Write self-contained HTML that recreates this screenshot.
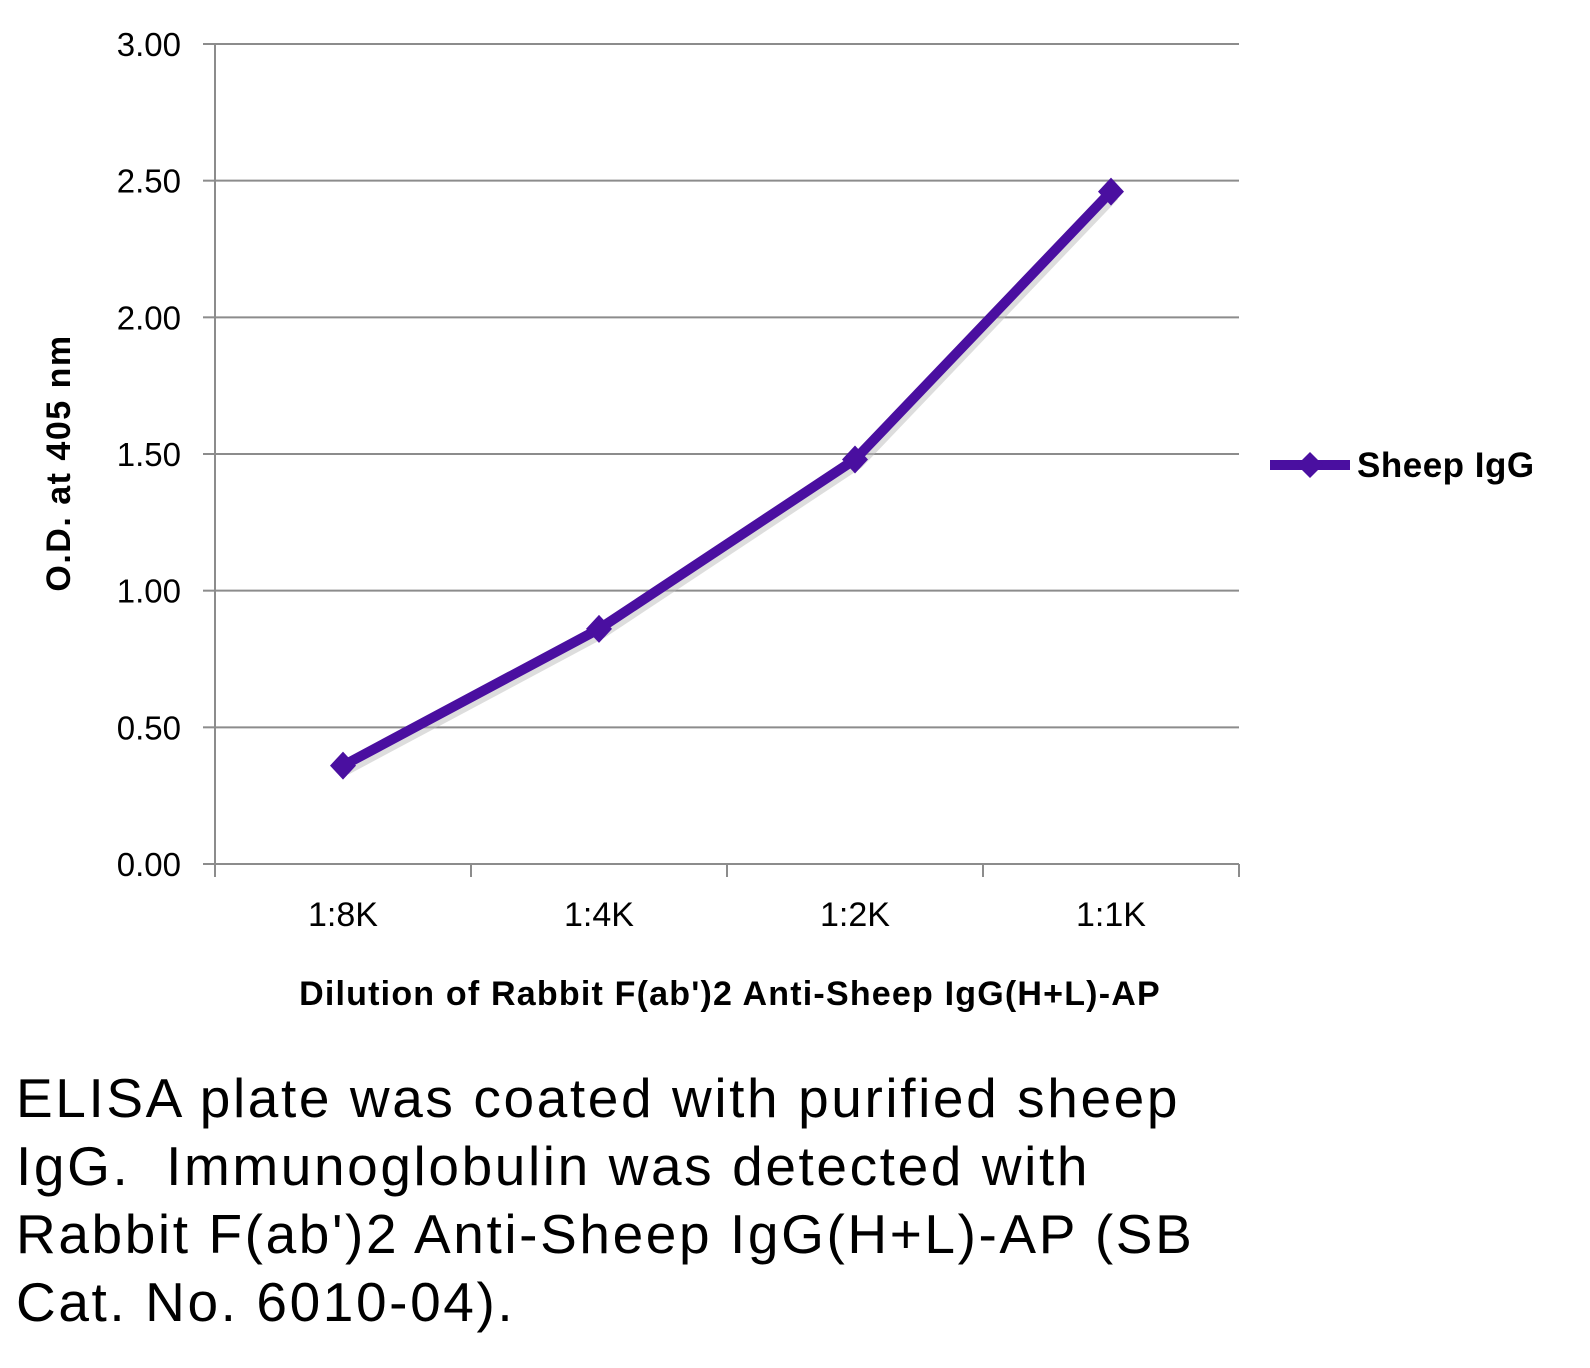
<!DOCTYPE html>
<html><head><meta charset="utf-8"><style>
body{margin:0;background:#fff;width:1590px;height:1368px;overflow:hidden;font-family:"Liberation Sans",sans-serif}
svg{position:absolute;left:0;top:0}
.cap{position:absolute;left:16px;top:1064px;font-size:55px;letter-spacing:2.6px;line-height:68px;color:#000;width:1500px;white-space:nowrap}
</style></head><body>
<svg id="chart" width="1590" height="1050"></svg>
<div class="cap">ELISA plate was coated with purified sheep<br>IgG.&nbsp; Immunoglobulin was detected with<br>Rabbit F(ab')2 Anti-Sheep IgG(H+L)-AP (SB<br>Cat. No. 6010-04).</div>
<script>
const categories=["1:8K","1:4K","1:2K","1:1K"];
const sheepIgG=[0.36,0.86,1.48,2.46];
const yTicks=["0.00","0.50","1.00","1.50","2.00","2.50","3.00"];
const NS="http://www.w3.org/2000/svg";
const svg=document.getElementById('chart');
const X0=215,X1=1239,Y0=864,Y1=44,YMAX=3;
const bw=(X1-X0)/categories.length;
const xs=i=>X0+bw*(i+0.5);
const ys=v=>Y0-(v/YMAX)*(Y0-Y1);
function mk(t,a,p){const e=document.createElementNS(NS,t);for(const k in a)e.setAttribute(k,a[k]);(p||svg).appendChild(e);return e;}
yTicks.forEach((t,i)=>{const v=parseFloat(t);const y=ys(v);
 const g=mk('line',{x1:X0,x2:X1,y1:y,y2:y,stroke:'#8c8c8c','stroke-width':2});
 
 
 mk('line',{x1:203,x2:X0,y1:y,y2:y,stroke:'#8c8c8c','stroke-width':2});
 const tx=mk('text',{x:181,y:y+12,'text-anchor':'end','font-size':33,fill:'#000'});tx.textContent=t;
 
 
});
mk('line',{x1:X0,x2:X0,y1:Y1,y2:Y0,stroke:'#8c8c8c','stroke-width':2});
for(let i=0;i<=categories.length;i++){const x=X0+bw*i;mk('line',{x1:x,x2:x,y1:Y0,y2:877,stroke:'#8c8c8c','stroke-width':2});}
categories.forEach((c,i)=>{const t=mk('text',{x:xs(i),y:926,'text-anchor':'middle','font-size':34,fill:'#000'});t.textContent=c;
 
 });
const pts=sheepIgG.map((v,i)=>xs(i)+','+ys(v)).join(' ');
mk('polyline',{points:sheepIgG.map((v,i)=>(xs(i)+3)+','+(ys(v)+4)).join(' '),fill:'none',stroke:'#bbb','stroke-width':11,opacity:0.5});
const line=mk('polyline',{points:pts,fill:'none',stroke:'#4a0fa0','stroke-width':10,'stroke-linejoin':'round'});


sheepIgG.forEach((v,i)=>{const x=xs(i),y=ys(v);const m=mk('polygon',{points:`${x},${y-14} ${x+13},${y} ${x},${y+14} ${x-13},${y}`,fill:'#4a0fa0'});
 
 });
const lg=mk('g',{});
mk('line',{x1:1270,x2:1350,y1:465,y2:465,stroke:'#4a0fa0','stroke-width':10},lg);
mk('polygon',{points:'1310,452 1323,465 1310,478 1297,465',fill:'#4a0fa0'},lg);
const lt=mk('text',{x:1357,y:477,'font-size':35,'font-weight':'bold',fill:'#000','letter-spacing':0.5},lg);lt.textContent='Sheep IgG';
const yt=mk('text',{x:0,y:0,transform:'translate(70,463) rotate(-90)','text-anchor':'middle','font-size':34,'font-weight':'bold','letter-spacing':1.5,fill:'#000'});yt.textContent='O.D. at 405 nm';

const xt=mk('text',{x:730,y:1005,'text-anchor':'middle','font-size':34,'font-weight':'bold','letter-spacing':1.2,fill:'#000'});xt.textContent="Dilution of Rabbit F(ab')2 Anti-Sheep IgG(H+L)-AP";

</script>
</body></html>
